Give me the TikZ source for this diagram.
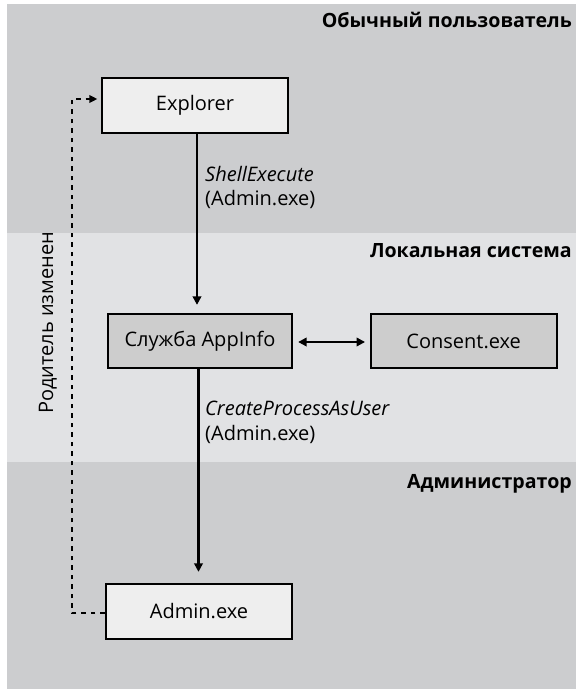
\documentclass[tikz,border=0pt]{standalone}
\usepackage{fontspec}
\setmainfont{Open Sans}
\usetikzlibrary{arrows.meta}

\definecolor{bandDark}{HTML}{CCCDCF}
\definecolor{bandLight}{HTML}{E1E2E4}
\definecolor{boxLight}{HTML}{EEEEEE}
\definecolor{boxDark}{HTML}{CDCDCD}

\begin{document}
\begin{tikzpicture}[x=1pt,y=-1pt,
  procbox/.style={draw=black, line width=2.3pt, minimum width=186pt,
    minimum height=55pt, inner sep=0pt, font=\fontsize{20}{24}\selectfont},
  lightbox/.style={procbox, fill=boxLight},
  darkbox/.style={procbox, fill=boxDark},
  flow/.style={line width=2.2pt, -{Triangle[length=8.5pt,width=8.5pt]}},
  both/.style={line width=2.2pt, {Triangle[length=8.5pt,width=8.5pt]}-{Triangle[length=8.5pt,width=8.5pt]}},
  reparent/.style={line width=2.3pt, dash pattern=on 4.5pt off 5pt,
    -{Triangle[length=8pt,width=7.5pt]}},
  bandtitle/.style={anchor=base east, inner sep=0pt,
    font=\fontsize{19.6}{23}\selectfont\bfseries},
  calltext/.style={anchor=base west, inner sep=0pt,
    font=\fontsize{20}{24}\selectfont},
]
\useasboundingbox (0,0) rectangle (576,689);

% security bands
\fill[bandDark]  (7,4)     rectangle (576,232.7);
\fill[bandLight] (7,232.7) rectangle (576,462);
\fill[bandDark]  (7,462)   rectangle (576,689);

\node[bandtitle] (tUser)  at (572,27)  {Обычный пользователь};
\node[bandtitle] (tLocal) at (572,257) {Локальная система};
\node[bandtitle] (tAdmin) at (572,488) {Администратор};

% processes
\node[lightbox] (explorer) at (195,105.5) {Explorer};
\node[darkbox, minimum width=184pt, minimum height=54pt] (appinfo) at (200,341) {Служба AppInfo};
\node[darkbox, minimum width=186pt, minimum height=54pt] (consent) at (463.7,341) {Consent.exe};
\node[lightbox] (admin) at (199,611.5) {Admin.exe};

% calls
\draw[flow, shorten >=8pt] ([xshift=2pt]explorer.south) -- ([xshift=2pt]explorer.south |- appinfo.north);
\draw[flow, shorten >=11pt] ([xshift=-1.5pt]appinfo.south) -- ([xshift=-1.5pt]appinfo.south |- admin.north);
\draw[both, shorten <=5pt, shorten >=4.5pt] ([yshift=-1pt]appinfo.east) -- ([yshift=-1pt]consent.west);

\node[calltext] (shellA) at (205,181) {\itshape ShellExecute};
\node[calltext] (shellB) at (205,205) {(Admin.exe)};
\node[calltext] (createA) at (205,415) {\itshape CreateProcessAsUser};
\node[calltext] (createB) at (205,440) {(Admin.exe)};

% parent reassignment
\coordinate (lowTurn) at (72,613);
\coordinate (highTurn) at (72,99);
\draw[reparent, shorten >=3.5pt] (admin.west |- lowTurn) -- (lowTurn) -- (highTurn) -- (explorer.west |- highTurn);
\node[rotate=90, anchor=base, inner sep=0pt, font=\fontsize{20}{24}\selectfont] (parentNote) at (53,323) {Родитель изменен};
\end{tikzpicture}
\end{document}
